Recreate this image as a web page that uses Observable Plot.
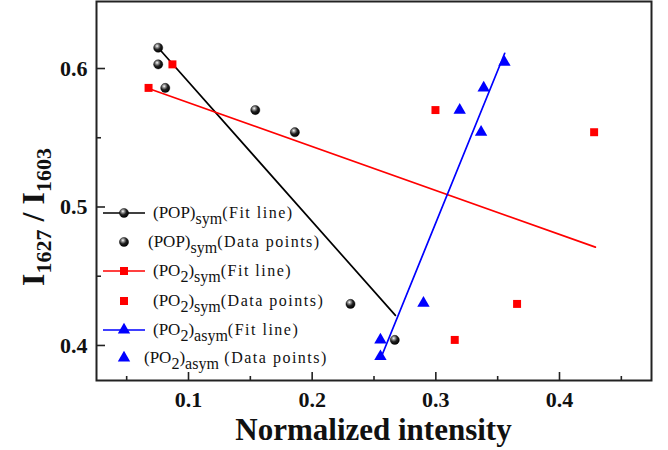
<!DOCTYPE html>
<html><head><meta charset="utf-8">
<script src="https://cdn.jsdelivr.net/npm/d3@7"></script>
<script src="https://cdn.jsdelivr.net/npm/@observablehq/plot@0.6"></script>
<style>
body{margin:0;background:#fff;}
#chart{position:relative;width:668px;height:450px;}
</style>
</head><body><div id="chart"></div>
<script>
// ---- data ----
const popX  = [0.0755, 0.0755, 0.0812, 0.154, 0.186, 0.231, 0.2668];
const popY  = [0.615, 0.603, 0.586, 0.570, 0.554, 0.430, 0.404];
const po2sX = [0.087, 0.0677, 0.2997, 0.428, 0.3657, 0.3153];
const po2sY = [0.603, 0.586, 0.570, 0.554, 0.430, 0.404];
const po2aX = [0.3555, 0.3387, 0.3193, 0.3366, 0.290, 0.2552, 0.2552];
const po2aY = [0.6045, 0.586, 0.570, 0.554, 0.4305, 0.404, 0.392];
const popFitX  = [0.0755, 0.2673], popFitY  = [0.615, 0.4217];
const po2sFitX = [0.0677, 0.429],  po2sFitY = [0.5856, 0.471];
const po2aFitX = [0.2558, 0.3557], po2aFitY = [0.3915, 0.611];
const xTicks = [0.1, 0.2, 0.3, 0.4], xMinor = [0.05, 0.15, 0.25, 0.35, 0.45];
const yTicks = [0.4, 0.5, 0.6], yMinor = [0.45, 0.55];
const xDomain = [0.0256, 0.4744], yDomain = [0.3747, 0.6484];
const xTitle = "Normalized intensity";

const zip = (xs, ys) => xs.map((x, i) => ({x, y: ys[i]}));
const W = 668, H = 450, mT = 1, mB = 70, mL = 96, mR = 17;
const fh = H - mT - mB, fw = W - mL - mR;
const serif = "'Liberation Serif','Times New Roman',serif";

const plot = Plot.plot({
  width: W, height: H, marginTop: mT, marginBottom: mB, marginLeft: mL, marginRight: mR,
  x: {domain: xDomain, label: null},
  y: {domain: yDomain, label: null},
  style: {fontFamily: serif, fontSize: "22px", fontWeight: "bold", color: "#111", background: "#fff"},
  marks: [
    Plot.tickX(xTicks, {x: d => d, insetTop: fh - 8, stroke: "#222", strokeWidth: 1.6}),
    Plot.tickX(xMinor, {x: d => d, insetTop: fh - 4, stroke: "#222", strokeWidth: 1.6}),
    Plot.tickY(yTicks, {y: d => d, insetRight: fw - 9, stroke: "#222", strokeWidth: 1.6}),
    Plot.tickY(yMinor, {y: d => d, insetRight: fw - 5, stroke: "#222", strokeWidth: 1.6}),
    Plot.axisX({ticks: xTicks, tickSize: 0, tickPadding: 11, tickFormat: d3.format(".1f"), label: null}),
    Plot.axisY({ticks: yTicks, tickSize: 0, tickPadding: 9, tickFormat: d3.format(".1f"), label: null}),
    Plot.line(zip(popFitX, popFitY), {x: "x", y: "y", stroke: "#000", strokeWidth: 1.7}),
    Plot.line(zip(po2sFitX, po2sFitY), {x: "x", y: "y", stroke: "#ff0000", strokeWidth: 1.7}),
    Plot.line(zip(po2aFitX, po2aFitY), {x: "x", y: "y", stroke: "#0000ff", strokeWidth: 1.7}),
    Plot.dot(zip(popX, popY), {x: "x", y: "y", r: 4.6, fill: "url(#ball)", stroke: "#000", strokeWidth: 0.4}),
    Plot.dot(zip(po2sX, po2sY), {x: "x", y: "y", r: 4.5, symbol: "square", fill: "#ff0000"}),
    Plot.dot(zip(po2aX, po2aY), {x: "x", y: "y", r: 4.6, symbol: "triangle", fill: "#0000ff"}),
    Plot.frame({stroke: "#222", strokeWidth: 2})
  ]
});
document.getElementById("chart").appendChild(plot);

const svg = d3.select(plot);
const defs = svg.insert("defs", ":first-child");
const g = defs.append("radialGradient").attr("id", "ball").attr("cx", "0.38").attr("cy", "0.32").attr("r", "0.7");
g.append("stop").attr("offset", "0").attr("stop-color", "#ffffff");
g.append("stop").attr("offset", "0.22").attr("stop-color", "#9a9a9a");
g.append("stop").attr("offset", "0.55").attr("stop-color", "#202020");
g.append("stop").attr("offset", "1").attr("stop-color", "#000");

// axis titles
svg.append("text").attr("x", mL + fw / 2).attr("y", 440).attr("text-anchor", "middle")
  .attr("font-family", serif).attr("font-weight", "bold").attr("font-size", 31).attr("fill", "#111")
  .text(xTitle);
const yl = svg.append("text").attr("transform", "translate(44,217) rotate(-90)").attr("text-anchor", "middle")
  .attr("font-family", serif).attr("font-weight", "bold").attr("fill", "#111");
yl.append("tspan").attr("font-size", 32).text("I");
yl.append("tspan").attr("font-size", 22).attr("dy", 7).text("1627");
yl.append("tspan").attr("font-size", 32).attr("dy", -7).text(" / I");
yl.append("tspan").attr("font-size", 22).attr("dy", 7).text("1603");

// legend
const leg = svg.append("g").attr("font-family", serif).attr("font-weight", "normal")
  .attr("text-anchor", "start").attr("fill", "#111");
const ballSym = (sel, cx, cy) => sel.append("circle").attr("cx", cx).attr("cy", cy).attr("r", 4.6)
  .attr("fill", "url(#ball)").attr("stroke", "#000").attr("stroke-width", 0.4);
const sqSym = (sel, cx, cy) => sel.append("path").attr("transform", `translate(${cx},${cy})`)
  .attr("d", d3.symbol(d3.symbolSquare, Math.PI * 4.5 * 4.5)()).attr("fill", "#ff0000");
const triSym = (sel, cx, cy) => sel.append("path").attr("transform", `translate(${cx},${cy})`)
  .attr("d", d3.symbol(d3.symbolTriangle, Math.PI * 4.6 * 4.6)()).attr("fill", "#0000ff");
// parts: [text, isSubscript]
const rows = [
  {y: 213, x: 153, line: "#000", sym: ballSym, parts: [["(POP)",0], ["sym",1], ["(Fit line)",2]]},
  {y: 242, x: 148, line: null, sym: ballSym, parts: [["(POP)",0], ["sym",1], ["(Data points)",2]]},
  {y: 271, x: 153, line: "#ff0000", sym: sqSym, parts: [["(PO",0], ["2",1], [")",0], ["sym",1], ["(Fit line)",2]]},
  {y: 301, x: 153, line: null, sym: sqSym, parts: [["(PO",0], ["2",1], [")",0], ["sym",1], ["(Data points)",2]]},
  {y: 330, x: 153, line: "#0000ff", sym: triSym, parts: [["(PO",0], ["2",1], [")",0], ["asym",1], ["(Fit line)",2]]},
  {y: 358, x: 144, line: null, sym: triSym, parts: [["(PO",0], ["2",1], [")",0], ["asym",1], ["\u00a0(Data points)",2]]}
];
for (const r of rows) {
  if (r.line) leg.append("line").attr("x1", 103).attr("x2", 145).attr("y1", r.y).attr("y2", r.y)
    .attr("stroke", r.line).attr("stroke-width", 1.7);
  r.sym(leg, 124, r.y);
  const t = leg.append("text").attr("x", r.x).attr("y", r.y + 5);
  let cur = 0;
  for (const [s, kind] of r.parts) {
    const want = kind === 1 ? 6 : 0;
    const ts = t.append("tspan").attr("dy", want - cur).text(s);
    cur = want;
    ts.attr("font-size", kind === 0 ? 17 : 16);
    if (kind === 2) ts.attr("letter-spacing", 1.5);
  }
}
</script>
</body></html>
